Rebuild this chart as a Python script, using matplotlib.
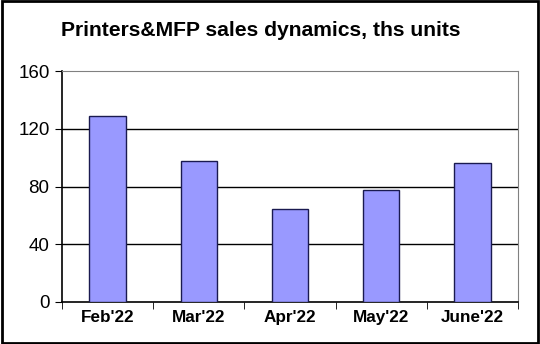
import matplotlib
matplotlib.use("Agg")
import matplotlib.pyplot as plt
from matplotlib.patches import Rectangle

categories = ["Feb'22", "Mar'22", "Apr'22", "May'22", "June'22"]
values = [129, 97.5, 64.5, 77.5, 96]
yticks = [0, 40, 80, 120, 160]

plt.rcParams['font.family'] = ['Liberation Sans', 'DejaVu Sans']

fig = plt.figure(figsize=(5.4, 3.44), dpi=100)
W, H = 540, 344
ax = fig.add_axes([62 / W, 1 - 302 / H, (518 - 62) / W, (302 - 71) / H])

x = list(range(len(categories)))
ax.bar(x, values, width=0.4, color="#9999FF", edgecolor="#1a1a50", linewidth=1.0, zorder=3)

ax.set_xlim(-0.5, len(categories) - 0.5)
ax.set_ylim(0, 160)
ax.set_yticks(yticks)
ax.set_yticklabels([str(v) for v in yticks], fontsize=13.5)
for v in yticks[1:-1]:
    ax.axhline(v, color="black", linewidth=1.0, zorder=1)

ax.set_xticks(x)
ax.set_xticklabels(categories, fontsize=12.3, fontweight="bold")
ax.tick_params(axis="x", length=0, pad=6)
ax.set_xticks([i + 0.5 for i in range(-1, len(categories))], minor=True)
ax.tick_params(axis="x", which="minor", length=5, direction="out", color="black")
ax.tick_params(axis="y", length=5, direction="out", color="black", pad=4)

ax.spines["left"].set_color("black")
ax.spines["bottom"].set_color("black")
ax.spines["left"].set_linewidth(1.2)
ax.spines["bottom"].set_linewidth(1.2)
ax.spines["top"].set_color("#808080")
ax.spines["right"].set_color("#808080")

fig.text(260.5 / W, 1 - 31 / H, "Printers&MFP sales dynamics, ths units", ha="center", va="center",
         fontsize=15.2, fontweight="bold")

fig.patches.append(Rectangle((0.003, 0.004), 0.994, 0.992, transform=fig.transFigure,
                             fill=False, edgecolor="black", linewidth=2))

fig.savefig("out.png", dpi=100)
